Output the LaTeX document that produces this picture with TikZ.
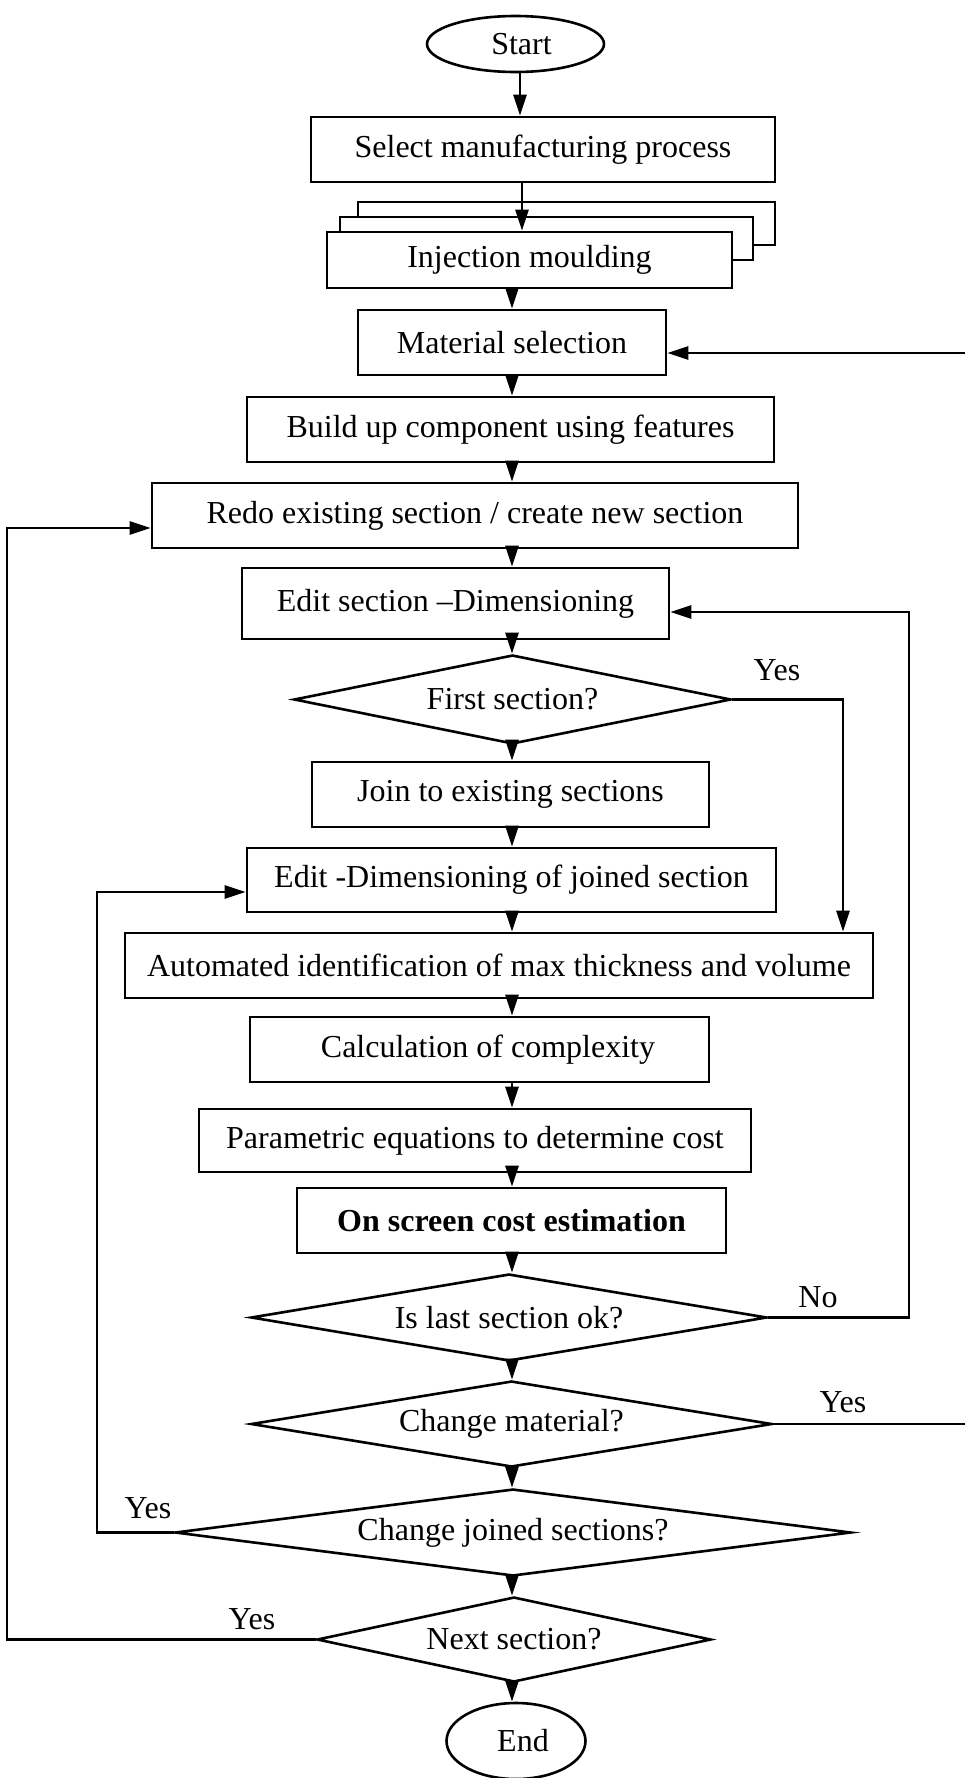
\documentclass[tikz,border=0pt]{standalone}
\usepackage{fontspec}
\setmainfont{Liberation Serif}
\usetikzlibrary{shapes.geometric,arrows.meta}
\newcommand\flowfont{\fontsize{32}{36}\selectfont}
\tikzset{
  box/.style={draw, line width=2.6pt, fill=white, inner sep=0pt, font=\flowfont},
  oval/.style={draw, ellipse, line width=2.6pt, fill=white, inner sep=0pt, font=\flowfont},
  dia/.style={draw, diamond, line width=2.6pt, fill=white, inner sep=0pt, font=\flowfont},
  arr/.style={line width=2.6pt, -{Triangle[length=21pt,width=13pt]}},
  lbl/.style={font=\flowfont, inner sep=0pt},
}
\begin{document}
\begin{tikzpicture}[x=1pt, y=-1pt]
\useasboundingbox (0,0) rectangle (965,1778);

% spine positions of the vertical arrows
\coordinate (spine)  at (512,0);
\coordinate (spineA) at (520,0);
\coordinate (spineB) at (522,0);

% main column
\node[oval, minimum width=177, minimum height=56] (start) at (515.5,44) {\hspace{12pt}Start};
\node[box, minimum width=464, minimum height=65] (select) at (543,149.5) {Select manufacturing process\hspace{16pt}};

% stacked process cards
\node[box, minimum width=417, minimum height=43] (inj3) at (566.5,223.5) {};
\node[box, minimum width=413, minimum height=43] (inj2) at (546.5,238.5) {};
\node[box, minimum width=405, minimum height=56] (inj)  at (529.5,260) {Injection moulding\hspace{11pt}};

\node[box, minimum width=308, minimum height=65] (material) at (512,342.5) {Material selection\hspace{8pt}};
\node[box, minimum width=527, minimum height=65] (build) at (510.5,429.5) {Build up component using features\hspace{43pt}};
\node[box, minimum width=646, minimum height=65] (redo) at (475,515.5) {Redo existing section / create new section\hspace{32pt}};
\node[box, minimum width=427, minimum height=71] (edit) at (455.5,603.5) {Edit section --Dimensioning\hspace{30pt}};
\node[dia, minimum width=437, minimum height=89, aspect=4.9] (first) at (512.5,699.5) {First section?\hspace{30pt}};
\node[box, minimum width=397, minimum height=65] (join) at (510.5,794.5) {Join to existing sections\hspace{19pt}};
\node[box, minimum width=529, minimum height=64] (editj) at (511.5,880) {Edit -Dimensioning of joined section\hspace{15pt}};
\node[box, minimum width=748, minimum height=65] (auto) at (499,965.5) {Automated identification of max thickness and volume};
\node[box, minimum width=459, minimum height=65] (calc) at (479.5,1049.5) {\hspace{17pt}Calculation of complexity};
\node[box, minimum width=552, minimum height=63] (param) at (475,1140.5) {Parametric equations to determine cost\hspace{16pt}};
\node[box, minimum width=429, minimum height=65] (screen) at (511.5,1220.5) {\bfseries On screen cost estimation\hspace{13pt}};
\node[dia, minimum width=516, minimum height=87, aspect=5.9] (islast) at (509,1317.5) {Is last section ok?\hspace{12pt}};
\node[dia, minimum width=521, minimum height=86, aspect=6.1] (chmat) at (511.5,1424) {Change material?\hspace{15pt}};
\node[dia, minimum width=676, minimum height=87, aspect=7.8] (chjoin) at (513,1532.5) {Change joined sections?\hspace{10pt}};
\node[dia, minimum width=394, minimum height=85, aspect=4.6] (next) at (514,1639.5) {Next section?};
\node[oval, minimum width=139, minimum height=76] (end) at (516,1741) {\hspace{14pt}End};

% straight flow
\draw[arr] (start.south -| spineA) -- (select.north -| spineA);
\draw[arr] (select.south -| spineB) -- (inj.north -| spineB);
\draw[arr] (inj.south -| spine) -- (material.north -| spine);
\draw[arr] (material.south -| spine) -- (build.north -| spine);
\draw[arr] (build.south -| spine) -- (redo.north -| spine);
\draw[arr] (redo.south -| spine) -- (edit.north -| spine);
\draw[arr] (edit.south -| spine) -- (first.north -| spine);
\draw[arr] (first.south -| spine) -- (join.north -| spine);
\draw[arr] (join.south -| spine) -- (editj.north -| spine);
\draw[arr] (editj.south -| spine) -- (auto.north -| spine);
\draw[arr] (auto.south -| spine) -- (calc.north -| spine);
\draw[arr] (calc.south -| spine) -- (param.north -| spine);
\draw[arr] (param.south -| spine) -- (screen.north -| spine);
\draw[arr] (screen.south -| spine) -- (islast.north -| spine);
\draw[arr] (islast.south -| spine) -- (chmat.north -| spine);
\draw[arr] (chmat.south -| spine) -- (chjoin.north -| spine);
\draw[arr] (chjoin.south -| spine) -- (next.north -| spine);
\draw[arr] (next.south -| spine) -- (end.north -| spine);

% decision branches
\coordinate (b1) at (843,0);
\draw[arr] (first.east) -- (first.east -| b1) -- (auto.north -| b1);
\node[lbl] (yes1) at (777,670) {Yes};

\coordinate (b2) at (909,612);
\draw[arr] (islast.east) -| (b2) -- (b2 -| edit.east);
\node[lbl] (no2) at (818,1297) {No};

\coordinate (b3) at (980,353);
\draw[arr] (chmat.east) -| (b3) -- (b3 -| material.east);
\node[lbl] (yes3) at (843,1402) {Yes};

\coordinate (b4) at (97,892);
\draw[arr] (chjoin.west) -| (b4) -- (b4 -| editj.west);
\node[lbl] (yes4) at (148,1508) {Yes};

\coordinate (b5) at (7,528);
\draw[arr] (next.west) -| (b5) -- (b5 -| redo.west);
\node[lbl] (yes5) at (252,1619) {Yes};
\end{tikzpicture}
\end{document}
